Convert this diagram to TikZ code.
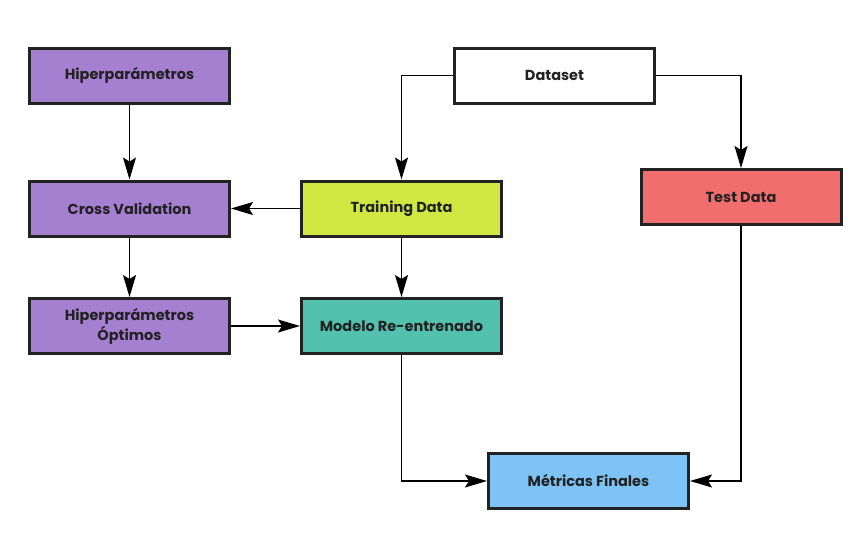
\documentclass[tikz,border=0pt]{standalone}
\usepackage{fontspec}
\setmainfont{Poppins}
\usetikzlibrary{arrows.meta}
\definecolor{cpurple}{HTML}{A57FD0}
\definecolor{clime}{HTML}{D1E843}
\definecolor{cteal}{HTML}{52C2AE}
\definecolor{cred}{HTML}{F06E6E}
\definecolor{cblue}{HTML}{7EC3F5}
\definecolor{cborder}{HTML}{222222}
\tikzset{
  box/.style={draw=cborder, line width=3pt, minimum width=200pt, minimum height=55pt,
    inner sep=0pt, align=center, font=\bfseries\fontsize{14.5}{20}\selectfont, text=cborder},
  conn/.style={line width=1.2pt, draw=black, -{Stealth[length=22pt,width=13pt,inset=4pt]}}
}
\begin{document}
\begin{tikzpicture}[x=1pt,y=-1pt]
\useasboundingbox (0,0) rectangle (864,538);
\node[box, fill=cpurple] (hp) at (129.5,75.5) {Hiperparámetros};
\node[box, fill=cpurple] (cv) at (129.5,208.5) {Cross Validation};
\node[box, fill=cpurple] (ho) at (129.5,326) {Hiperparámetros\\Óptimos};
\node[box, fill=clime] (td) at (401.5,208.5) {Training Data};
\node[box, fill=cteal] (mr) at (401.5,326) {Modelo Re-entrenado};
\node[box, fill=white] (ds) at (554.5,75.5) {Dataset};
\node[box, fill=cred] (te) at (741,197) {Test Data};
\node[box, fill=cblue] (mf) at (588.5,481) {Métricas Finales};
\draw[conn] (hp) -- (cv);
\draw[conn] (td) -- (cv);
\draw[conn] (cv) -- (ho);
\draw[conn] (ho) -- (mr);
\draw[conn] (td) -- (mr);
\draw[conn] (ds.west) -| (td.north);
\draw[conn] (ds.east) -| (te.north);
\draw[conn] (mr.south) |- (mf.west);
\draw[conn] (te.south) |- (mf.east);
\end{tikzpicture}
\end{document}
